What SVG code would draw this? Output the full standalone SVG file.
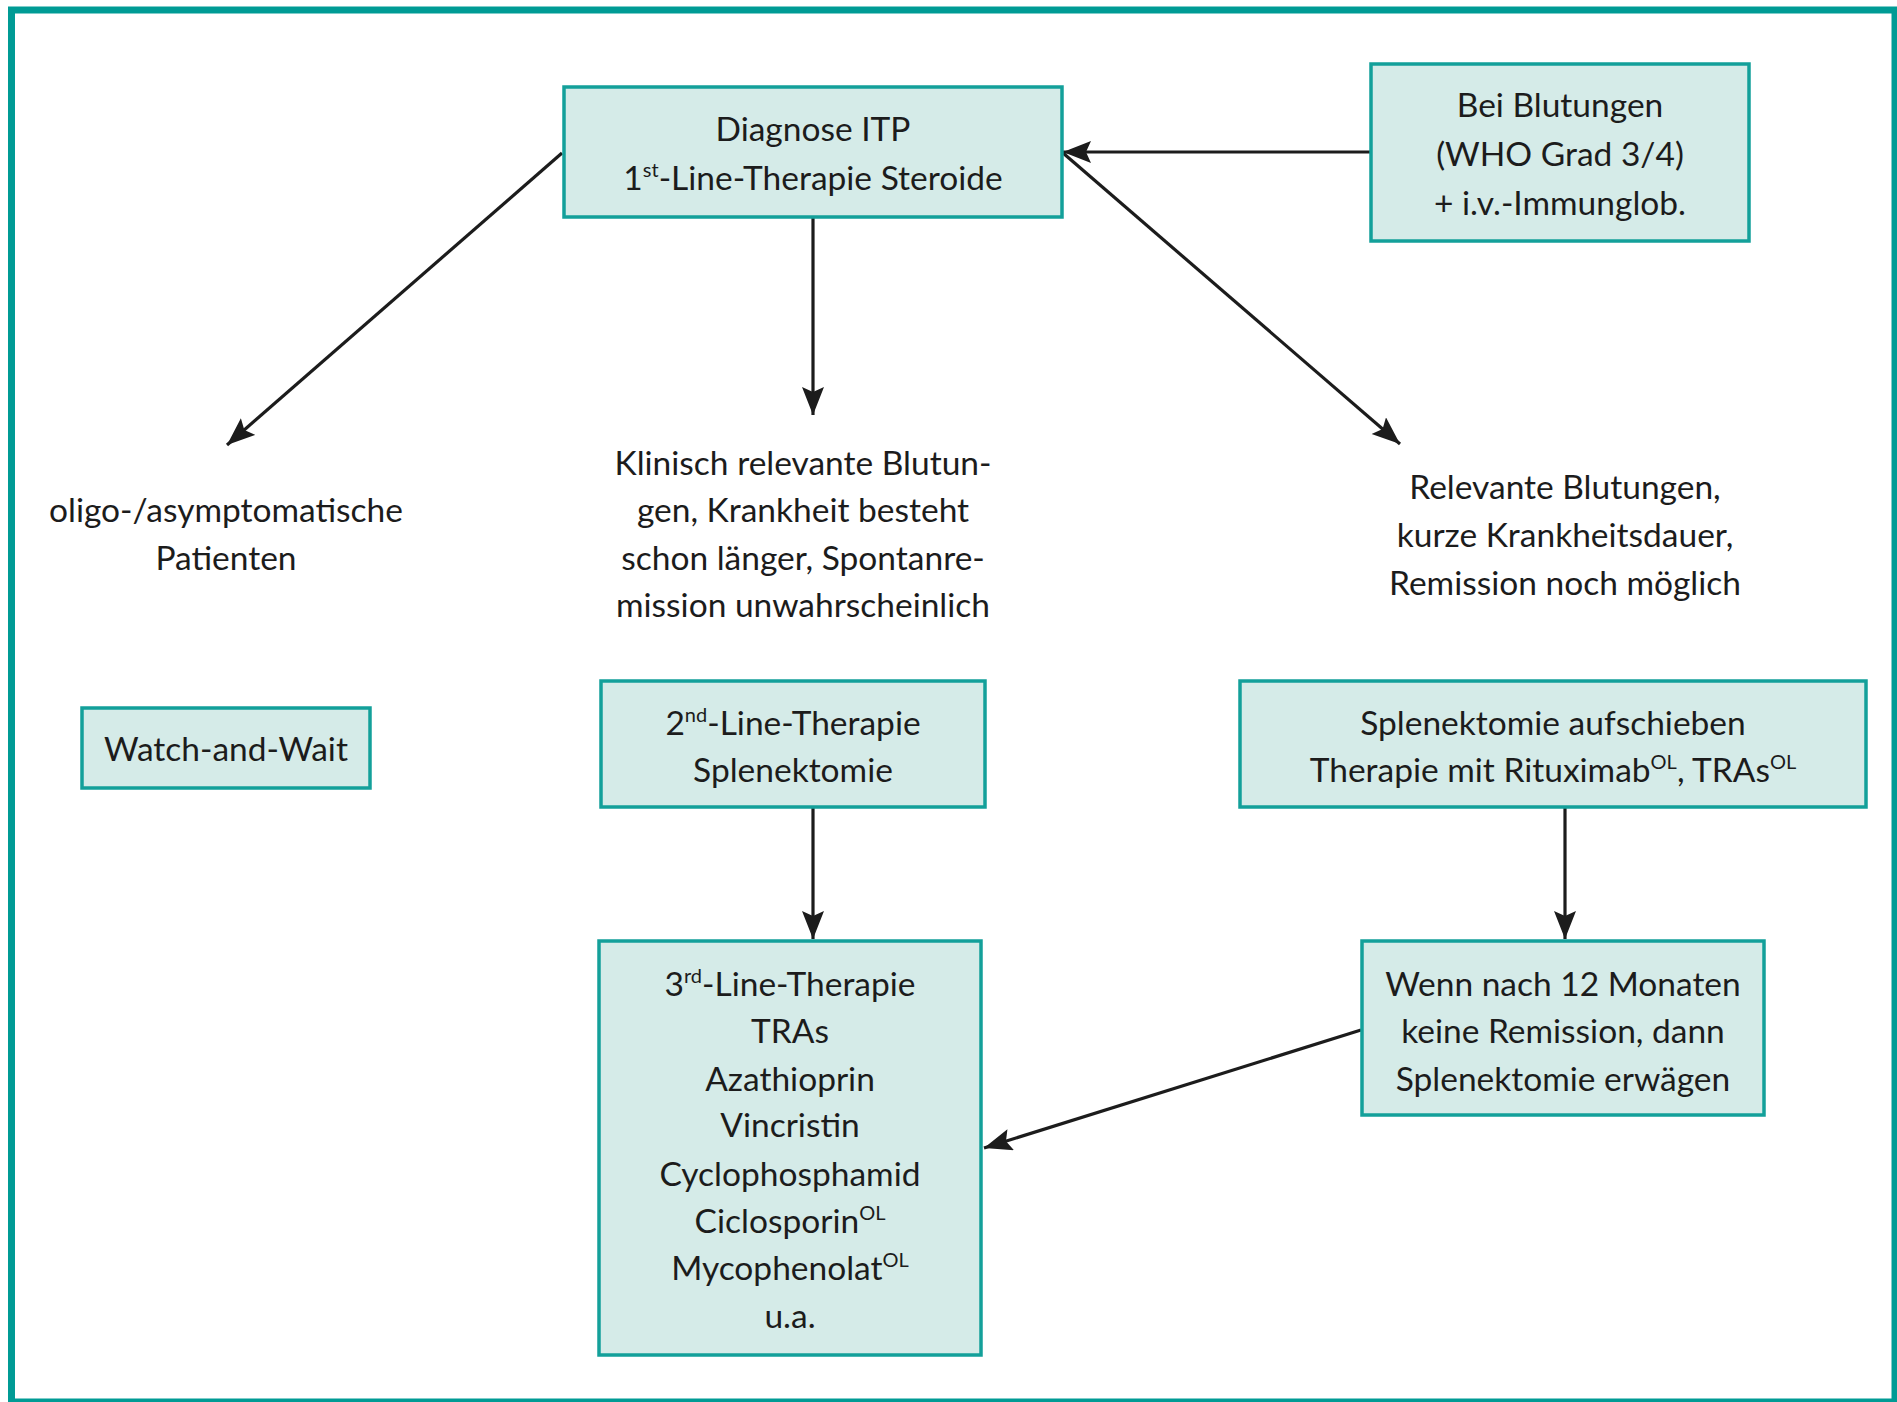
<svg xmlns="http://www.w3.org/2000/svg" width="1897" height="1402" viewBox="0 0 1897 1402">
<defs>
<style>
.box{fill:#d5ebe8;stroke:#13a09a;stroke-width:3.5}
.t{font-family:Lato,"Open Sans","Liberation Sans",sans-serif;font-size:33.5px;fill:#1c1c1c;text-anchor:middle}
.sup{font-size:20px}
.con{stroke:#1c1c1c;stroke-width:3.2;fill:none;marker-end:url(#ah)}
</style>
<marker id="ah" markerUnits="userSpaceOnUse" markerWidth="32" markerHeight="24" refX="28" refY="11" orient="auto">
<path d="M0,0 L28,11 L0,22 L5,11 z" fill="#1c1c1c"/>
</marker>
</defs>
<rect x="0" y="0" width="1897" height="1402" fill="#ffffff"/>
<rect x="11.5" y="10" width="1883.5" height="1392" fill="none" stroke="#009b95" stroke-width="7"/>

<g id="connectors">
<line class="con" x1="1371" y1="152" x2="1063" y2="152"/>
<line class="con" x1="562" y1="153" x2="227" y2="445"/>
<line class="con" x1="813" y1="217" x2="813" y2="415"/>
<line class="con" x1="1063" y1="153" x2="1400" y2="444"/>
<line class="con" x1="813" y1="807" x2="813" y2="939"/>
<line class="con" x1="1565" y1="807" x2="1565" y2="939"/>
<line class="con" x1="1361" y1="1030" x2="984" y2="1148"/>
</g>

<g id="diagnose">
<rect class="box" x="564" y="87" width="498" height="130"/>
<text class="t" x="813" y="141">Diagnose ITP</text>
<text class="t" x="813" y="190">1<tspan class="sup" dy="-13">st</tspan><tspan dy="13">-Line-Therapie Steroide</tspan></text>
</g>

<g id="blutungen">
<rect class="box" x="1371" y="64" width="378" height="177"/>
<text class="t" x="1560" y="117">Bei Blutungen</text>
<text class="t" x="1560" y="166">(WHO Grad 3/4)</text>
<text class="t" x="1560" y="215">+ i.v.-Immunglob.</text>
</g>

<g id="oligo">
<text class="t" x="226" y="522">oligo-/asymptomatische</text>
<text class="t" x="226" y="570">Patienten</text>
</g>

<g id="klinisch">
<text class="t" x="803" y="475">Klinisch relevante Blutun-</text>
<text class="t" x="803" y="522">gen, Krankheit besteht</text>
<text class="t" x="803" y="570">schon länger, Spontanre-</text>
<text class="t" x="803" y="617">mission unwahrscheinlich</text>
</g>

<g id="relevante">
<text class="t" x="1565" y="499">Relevante Blutungen,</text>
<text class="t" x="1565" y="547">kurze Krankheitsdauer,</text>
<text class="t" x="1565" y="595">Remission noch möglich</text>
</g>

<g id="watch">
<rect class="box" x="82" y="708" width="288" height="80"/>
<text class="t" x="226" y="761">Watch-and-Wait</text>
</g>

<g id="second">
<rect class="box" x="601" y="681" width="384" height="126"/>
<text class="t" x="793" y="735">2<tspan class="sup" dy="-13">nd</tspan><tspan dy="13">-Line-Therapie</tspan></text>
<text class="t" x="793" y="782">Splenektomie</text>
</g>

<g id="aufschieben">
<rect class="box" x="1240" y="681" width="626" height="126"/>
<text class="t" x="1553" y="735">Splenektomie aufschieben</text>
<text class="t" x="1553" y="782">Therapie mit Rituximab<tspan class="sup" dy="-13">OL</tspan><tspan dy="13">, TRAs</tspan><tspan class="sup" dy="-13">OL</tspan></text>
</g>

<g id="third">
<rect class="box" x="599" y="941" width="382" height="414"/>
<text class="t" x="790" y="996">3<tspan class="sup" dy="-13">rd</tspan><tspan dy="13">-Line-Therapie</tspan></text>
<text class="t" x="790" y="1043">TRAs</text>
<text class="t" x="790" y="1091">Azathioprin</text>
<text class="t" x="790" y="1137">Vincristin</text>
<text class="t" x="790" y="1186">Cyclophosphamid</text>
<text class="t" x="790" y="1233">Ciclosporin<tspan class="sup" dy="-13">OL</tspan></text>
<text class="t" x="790" y="1280">Mycophenolat<tspan class="sup" dy="-13">OL</tspan></text>
<text class="t" x="790" y="1328">u.a.</text>
</g>

<g id="wenn">
<rect class="box" x="1362" y="941" width="402" height="174"/>
<text class="t" x="1563" y="996">Wenn nach 12 Monaten</text>
<text class="t" x="1563" y="1043">keine Remission, dann</text>
<text class="t" x="1563" y="1091">Splenektomie erwägen</text>
</g>
</svg>
